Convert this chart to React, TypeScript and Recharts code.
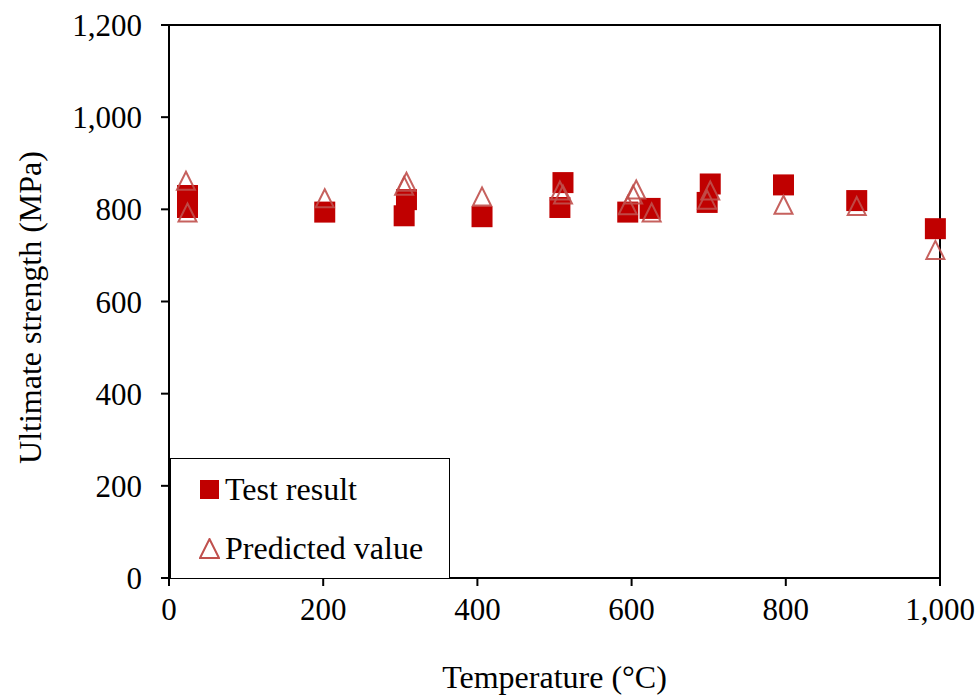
import React from "react";
import {
  ScatterChart,
  Scatter,
  XAxis,
  YAxis,
  ReferenceArea,
  Label,
} from "recharts";

// Test result (filled squares)
const testTemp = [24, 24, 202, 308, 305, 406, 511, 507, 595, 624, 702, 698, 797, 892, 994];
const testStrength = [830, 804, 794, 821, 786, 784, 858, 804, 794, 802, 855, 815, 853, 819, 758];

// Predicted value (open triangles)
const predTemp = [22, 24, 202, 308, 305, 406, 507, 511, 606, 602, 595, 626, 702, 698, 797, 892, 994];
const predStrength = [862, 793, 824, 860, 851, 828, 841, 832, 843, 832, 809, 793, 841, 821, 810, 807, 712];

const xTicks = [0, 200, 400, 600, 800, 1000];
const yTicks = [0, 200, 400, 600, 800, 1000, 1200];

const testData = testTemp.map((t, i) => ({ temp: t, strength: testStrength[i] }));
const predData = predTemp.map((t, i) => ({ temp: t, strength: predStrength[i] }));

const FONT = '"Liberation Serif", "Times New Roman", serif';
const SQUARE = "#C00000";
const TRI = "#C0504D";

const fmt = (v: number) => v.toLocaleString("en-US");

const SquareShape = (props: any) => {
  const { cx, cy } = props;
  const s = 21;
  return <rect x={cx - s / 2} y={cy - s / 2} width={s} height={s} fill={SQUARE} />;
};

const TriangleShape = (props: any) => {
  const { cx, cy } = props;
  const h = 9;
  return (
    <path
      d={`M${cx},${cy - h} L${cx + h},${cy + h} L${cx - h},${cy + h} Z`}
      fill="none"
      stroke={TRI}
      strokeOpacity={0.9}
      strokeWidth={2}
    />
  );
};

// legend box drawn over the lower-left corner of the plot
const LegendBox = () => (
  <div
    style={{
      position: "absolute",
      left: 170,
      top: 458,
      width: 280,
      height: 121,
      border: "1.5px solid #000",
      boxSizing: "border-box",
      background: "#fff",
      fontFamily: FONT,
      fontSize: 32,
      lineHeight: "32px",
    }}
  >
    <div style={{ position: "absolute", left: 28, top: 14, display: "flex", alignItems: "center" }}>
      <svg width={21} height={21} style={{ marginRight: 5 }}>
        <rect x={1} y={1} width={19} height={19} fill={SQUARE} />
      </svg>
      <span>Test result</span>
    </div>
    <div style={{ position: "absolute", left: 28, top: 73, display: "flex", alignItems: "center" }}>
      <svg width={21} height={21} style={{ marginRight: 5 }}>
        <path d="M10.5,1 L20,20 L1,20 Z" fill="none" stroke={TRI} strokeWidth={2} />
      </svg>
      <span>Predicted value</span>
    </div>
  </div>
);

export default function App() {
  return (
    <div style={{ position: "absolute", left: 0, top: 0, width: 979, height: 697, background: "#fff" }}>
      <ScatterChart
        width={979}
        height={697}
        margin={{ top: 25, right: 39, left: 0, bottom: 0 }}
        style={{ fontFamily: FONT }}
      >
        <XAxis
          type="number"
          dataKey="temp"
          domain={[0, 1000]}
          ticks={xTicks}
          tickFormatter={fmt}
          height={119}
          tickSize={8}
          tickMargin={12}
          stroke="#000"
          strokeWidth={2}
          tick={{ fill: "#000", fontSize: 31, fontFamily: FONT }}
          interval={0}
        >
          <Label
            content={(p: any) => {
              const vb = p.viewBox;
              return (
                <text
                  x={vb.x + vb.width / 2}
                  y={688}
                  textAnchor="middle"
                  fontSize={32}
                  fontFamily={FONT}
                  fill="#000"
                >
                  Temperature (°C)
                </text>
              );
            }}
          />
        </XAxis>
        <YAxis
          type="number"
          dataKey="strength"
          domain={[0, 1200]}
          ticks={yTicks}
          tickFormatter={fmt}
          width={169}
          tickSize={8}
          tickMargin={19}
          stroke="#000"
          strokeWidth={2}
          tick={{ fill: "#000", fontSize: 31, fontFamily: FONT }}
          interval={0}
        >
          <Label
            content={(p: any) => {
              const vb = p.viewBox;
              const x = 30;
              const y = vb.y + vb.height / 2 + 6;
              return (
                <text
                  x={x}
                  y={y}
                  textAnchor="middle"
                  dominantBaseline="central"
                  transform={`rotate(-90, ${x}, ${y})`}
                  fontSize={32}
                  fontFamily={FONT}
                  fill="#000"
                >
                  Ultimate strength (MPa)
                </text>
              );
            }}
          />
        </YAxis>
        <ReferenceArea
          x1={0}
          x2={1000}
          y1={0}
          y2={1200}
          fill="none"
          stroke="#000"
          strokeWidth={2}
          ifOverflow="visible"
        />
        <Scatter
          name="Test result"
          data={testData}
          shape={<SquareShape />}
          isAnimationActive={false}
        />
        <Scatter
          name="Predicted value"
          data={predData}
          shape={<TriangleShape />}
          isAnimationActive={false}
        />
      </ScatterChart>
      <LegendBox />
    </div>
  );
}
